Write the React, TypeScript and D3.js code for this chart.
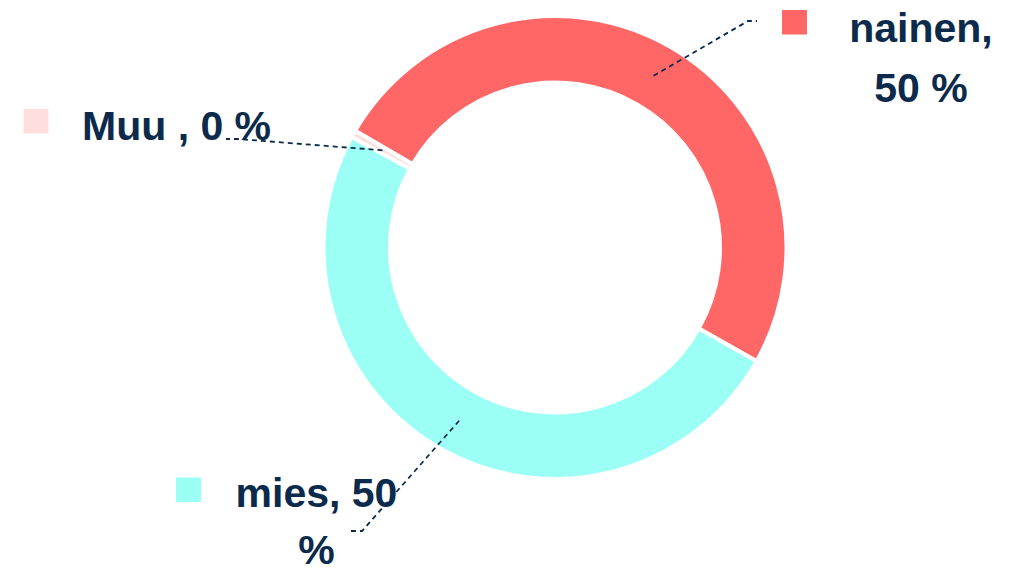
import React from "react";
import * as d3 from "d3";

// ---- data ----
const categories = ["nainen", "mies", "Muu"];
const values = [50, 50, 0.5];
const valueLabels = ["50 %", "50 %", "0 %"];
const labelLines = [["nainen,", "50 %"], ["mies, 50", "%"], ["Muu , 0 %"]];
const colors = ["#FF6666", "#9BFFF6", "#FFDEDE"];

// ---- layout ----
const W = 1025;
const H = 574;
const CX = 555;
const CY = 247.5;
const R_OUT = 231.5;
const R_IN = 165;
const R_LEAD = 198;
const START_DEG = -59.7;
const TEXT_COLOR = "#0B2A4C";
const FONT = "'Liberation Sans', Arial, Helvetica, sans-serif";

type LabelLayout = {
  elbow: [number, number];
  end: [number, number];
  square: [number, number];
  textX: number;
  anchor: "start" | "middle";
  baselines: number[];
};

const labelLayout: LabelLayout[] = [
  { elbow: [748, 21], end: [757, 21], square: [782, 10], textX: 921, anchor: "middle", baselines: [41.7, 101.7] },
  { elbow: [362, 531], end: [351, 531], square: [176, 477.5], textX: 316.5, anchor: "middle", baselines: [506.7, 564] },
  { elbow: [238, 139], end: [226, 139], square: [23.5, 109], textX: 82, anchor: "start", baselines: [140] },
];

export default function App() {
  const start = (START_DEG * Math.PI) / 180;
  const pie = d3
    .pie<number>()
    .sort(null)
    .value((d) => d)
    .startAngle(start)
    .endAngle(start + 2 * Math.PI);
  const arcs = pie(values);
  const arc = d3.arc<d3.PieArcDatum<number>>().innerRadius(R_IN).outerRadius(R_OUT);
  const leadArc = d3.arc<d3.PieArcDatum<number>>().innerRadius(R_LEAD).outerRadius(R_LEAD);

  return (
    <svg
      width={W}
      height={H}
      viewBox={`0 0 ${W} ${H}`}
      style={{ position: "fixed", left: 0, top: 0, background: "#ffffff" }}
    >
      <g transform={`translate(${CX},${CY})`}>
        {arcs.map((a, i) => (
          <path key={categories[i]} d={arc(a) || ""} fill={colors[i]} stroke="#ffffff" strokeWidth={4} strokeLinejoin="miter" />
        ))}
      </g>
      {arcs.map((a, i) => {
        const [lx, ly] = leadArc.centroid(a);
        const L = labelLayout[i];
        const pts: [number, number][] = [[CX + lx, CY + ly], L.elbow, L.end];
        const line = d3.line()(pts) || "";
        return (
          <g key={"lab-" + categories[i]}>
            <path d={line} fill="none" stroke={TEXT_COLOR} strokeWidth={1.8} strokeDasharray="5 4" />
            <rect x={L.square[0]} y={L.square[1]} width={25} height={24.5} fill={colors[i]} />
            <text
              fill={TEXT_COLOR}
              fontFamily={FONT}
              fontWeight="bold"
              fontSize={41}
              textAnchor={L.anchor}
            >
              {labelLines[i].map((t, j) => (
                <tspan key={j} x={L.textX} y={L.baselines[j]}>
                  {t}
                </tspan>
              ))}
            </text>
          </g>
        );
      })}
      <title>{categories.map((c, i) => `${c}: ${valueLabels[i]}`).join(", ")}</title>
    </svg>
  );
}
